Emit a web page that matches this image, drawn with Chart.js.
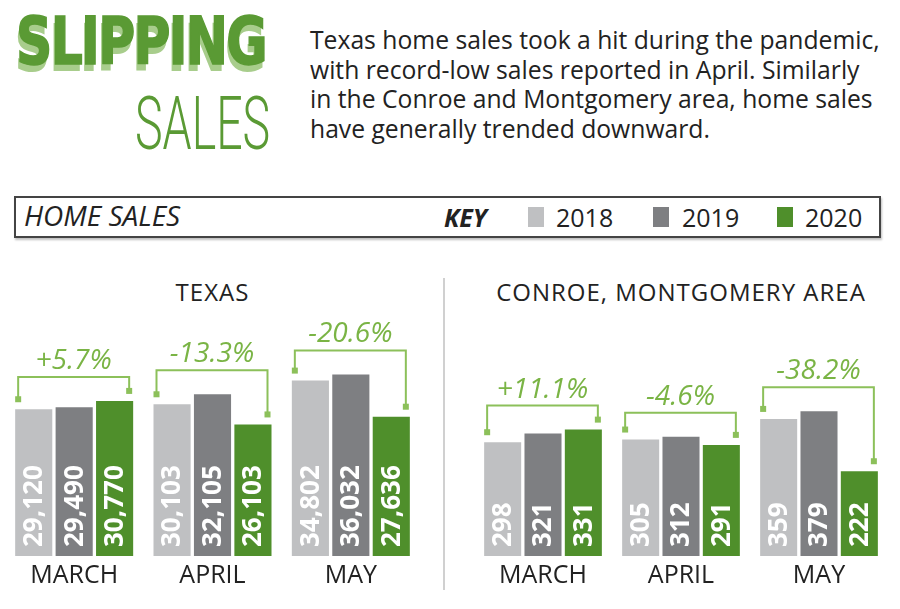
<!DOCTYPE html>
<html>
<head>
<meta charset="utf-8">
<script src="https://cdn.jsdelivr.net/npm/chart.js@4"></script>
<style>
  body { margin: 0; width: 900px; height: 609px; background: #fff; position: relative; overflow: hidden; font-family: "Open Sans", sans-serif; color: #222; }
  .abs { position: absolute; }
  #slipping { left: 16px; top: 9px; font-family: "DejaVu Sans Condensed", "DejaVu Sans", sans-serif; font-weight: bold; font-size: 66px; color: #5a9a34; -webkit-text-stroke: 1.5px #5a9a34; letter-spacing: -2px; transform: scaleX(0.85); transform-origin: left top; text-shadow: -2px 7px 0 #a8cd8c; white-space: nowrap; line-height: 1; }
  #sales { left: 135px; top: 86px; font-family: Roboto, sans-serif; font-weight: 300; font-size: 75px; color: #5a9a34; transform: scaleX(0.62); transform-origin: left top; line-height: 1; white-space: nowrap; }
  #intro { left: 310px; top: 25px; font-size: 24.7px; line-height: 29.7px; width: 574px; color: #222; }
  #key { left: 14px; top: 196px; width: 863px; height: 38px; border: 2px solid #444; box-shadow: 1px 2px 2px rgba(0,0,0,0.25); }
  #key span { position: absolute; top: 3px; font-size: 25px; line-height: 32px; color: #222; white-space: nowrap; }
  .sw { position: absolute; top: 9px; width: 16px; height: 20px; }
  .chartTitle { top: 275px; font-size: 24px; letter-spacing: 1px; text-align: center; color: #222; }
  #sep { left: 443px; top: 278px; width: 2px; height: 312px; background: #d0d0d0; }
</style>
</head>
<body>
<div id="slipping" class="abs">SLIPPING</div>
<div id="sales" class="abs">SALES</div>
<div id="intro" class="abs">Texas home sales took a hit during the pandemic, with record-low sales reported in April. Similarly in the Conroe and Montgomery area, home sales have generally trended downward.</div>

<div id="key" class="abs">
  <span style="left:8px;font-style:italic;font-size:28px;top:1px;">HOME SALES</span>
  <span style="left:428px;font-style:italic;font-weight:bold;">KEY</span>
  <div class="sw" style="left:512px;background:#bfc0c2;"></div>
  <span style="left:540px;">2018</span>
  <div class="sw" style="left:637px;background:#7e7f82;"></div>
  <span style="left:666px;">2019</span>
  <div class="sw" style="left:761px;background:#4f8f2b;"></div>
  <span style="left:789px;">2020</span>
</div>

<div class="abs chartTitle" style="left:5px;width:415px;">TEXAS</div>
<div class="abs chartTitle" style="left:474px;width:414px;">CONROE, MONTGOMERY AREA</div>
<div id="sep" class="abs"></div>

<div class="abs" style="left:5px;top:304px;width:415px;height:292px;"><canvas id="texas"></canvas></div>
<div class="abs" style="left:474px;top:304px;width:414px;height:292px;"><canvas id="conroe"></canvas></div>

<script>
const categories = ['MARCH', 'APRIL', 'MAY'];
const years = ['2018', '2019', '2020'];
const yearColors = ['#bfc0c2', '#7e7f82', '#4f8f2b'];

const texas2018 = [29120, 30103, 34802];
const texas2019 = [29490, 32105, 36032];
const texas2020 = [30770, 26103, 27636];
const texasChange = ['+5.7%', '-13.3%', '-20.6%'];

const conroe2018 = [298, 305, 359];
const conroe2019 = [321, 312, 379];
const conroe2020 = [331, 291, 222];
const conroeChange = ['+11.1%', '-4.6%', '-38.2%'];

// white rotated numbers inside each bar
const barValues = {
  id: 'barValues',
  afterDatasetsDraw(chart) {
    const ctx = chart.ctx;
    const base = chart.scales.y.getPixelForValue(0);
    chart.data.datasets.forEach((ds, di) => {
      chart.getDatasetMeta(di).data.forEach((bar, i) => {
        ctx.save();
        ctx.translate(bar.x, base - 9);
        ctx.rotate(-Math.PI / 2);
        ctx.font = 'bold 26px "Open Sans", sans-serif';
        ctx.fillStyle = '#fff';
        ctx.textAlign = 'left';
        ctx.textBaseline = 'middle';
        ctx.fillText(ds.data[i].toLocaleString('en-US'), 0, 1);
        ctx.restore();
      });
    });
  }
};

// bracket between 2018 and 2020 with % change
const brackets = {
  id: 'brackets',
  afterDraw(chart) {
    const ctx = chart.ctx;
    const labels = chart.options.plugins.brackets.labels;
    const first = chart.getDatasetMeta(0).data;
    const mid = chart.getDatasetMeta(1).data;
    const last = chart.getDatasetMeta(2).data;
    ctx.save();
    ctx.lineWidth = 2;
    first.forEach((b0, i) => {
      const b2 = last[i];
      const x0 = b0.x - b0.width / 2 + 3;
      const x2 = b2.x + b2.width / 2 - 4;
      const top = Math.min(b0.y, mid[i].y, b2.y) - 24;
      const y0 = b0.y - 10;
      const y2 = b2.y - 10;
      ctx.strokeStyle = '#8cc05a';
      ctx.fillStyle = '#8cc05a';
      ctx.beginPath();
      ctx.moveTo(x0, y0);
      ctx.lineTo(x0, top);
      ctx.lineTo(x2, top);
      ctx.lineTo(x2, y2);
      ctx.stroke();
      ctx.fillRect(x0 - 3, y0 - 3, 6, 6);
      ctx.fillRect(x2 - 3, y2 - 3, 6, 6);
      ctx.font = 'italic 28px "Open Sans", sans-serif';
      ctx.fillStyle = '#7ab445';
      ctx.textAlign = 'center';
      ctx.textBaseline = 'middle';
      ctx.fillText(labels[i], (x0 + x2) / 2, top - 16);
    });
    ctx.restore();
  }
};

function makeChart(id, s18, s19, s20, changes, ymax) {
  const series = [s18, s19, s20];
  new Chart(document.getElementById(id), {
    type: 'bar',
    data: {
      labels: categories,
      datasets: series.map((d, k) => ({
        label: years[k],
        data: d,
        backgroundColor: yearColors[k],
        borderWidth: 0,
        categoryPercentage: 0.877,
        barPercentage: 0.918
      }))
    },
    options: {
      responsive: true,
      maintainAspectRatio: false,
      animation: false,
      layout: { padding: 0 },
      plugins: {
        legend: { display: false },
        tooltip: { enabled: false },
        brackets: { labels: changes }
      },
      scales: {
        x: {
          grid: { display: false, drawTicks: false },
          border: { display: false },
          ticks: { color: '#222', font: { family: 'Open Sans', size: 25 }, padding: 5, maxRotation: 0 }
        },
        y: { display: false, min: 0, max: ymax }
      }
    },
    plugins: [barValues, brackets]
  });
}

makeChart('texas', texas2018, texas2019, texas2020, texasChange, 50000);
makeChart('conroe', conroe2018, conroe2019, conroe2020, conroeChange, 660);
</script>
</body>
</html>
